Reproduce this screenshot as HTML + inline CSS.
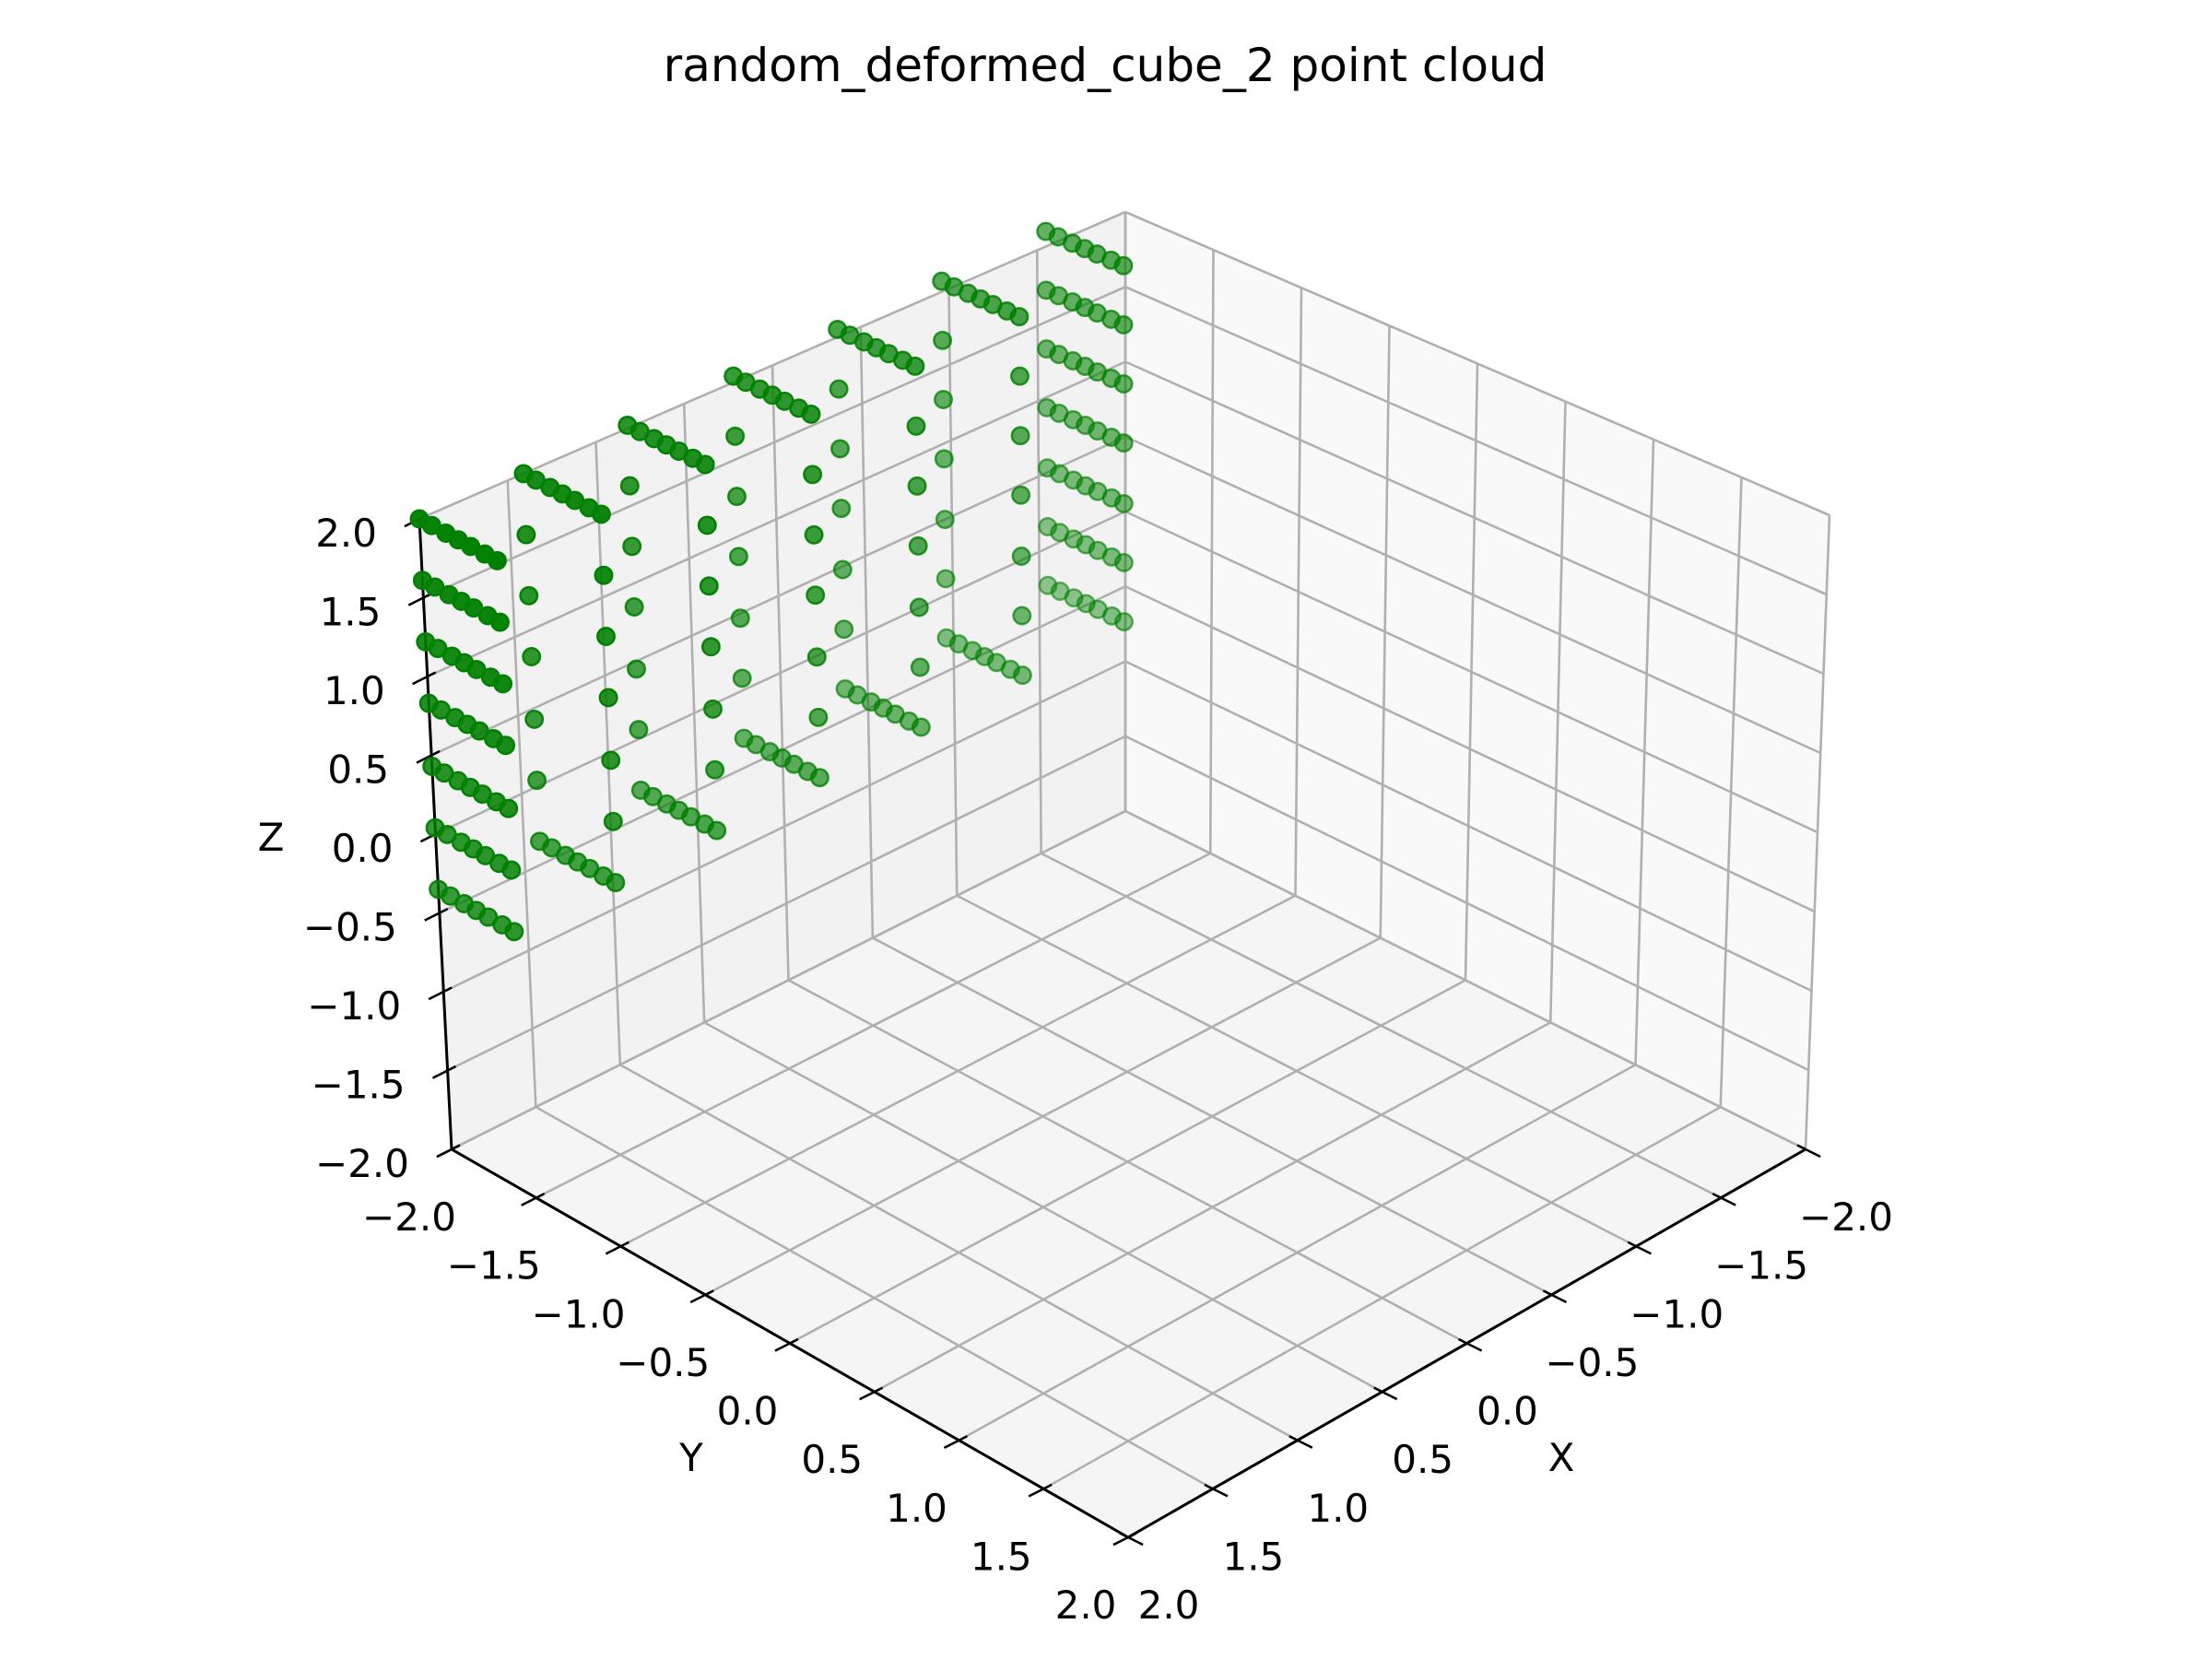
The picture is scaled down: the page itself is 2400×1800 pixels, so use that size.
<!DOCTYPE html>
<html><head><meta charset="utf-8"><style>
html,body{margin:0;padding:0;background:#fff;}
svg{display:block;font-family:"DejaVu Sans","Liberation Sans",sans-serif;}
</style></head><body>
<svg id="chart" width="2400" height="1800" viewBox="0 0 2400 1800" xmlns="http://www.w3.org/2000/svg">
<rect width="2400" height="1800" fill="#ffffff"/>
<text x="1199" y="88" font-size="50" text-anchor="middle" fill="#000">random_deformed_cube_2 point cloud</text>
<g id="panes"></g>
<g id="grid"></g>
<g id="axes"></g>
<g id="points"></g>
<text x="294" y="923" font-size="42" text-anchor="middle">Z</text>
<text x="750" y="1596" font-size="42" text-anchor="middle">Y</text>
<text x="1694" y="1596" font-size="42" text-anchor="middle">X</text>
</svg>
<script>
// data grid values (cube surface lattice)
var xs = [2.0, 1.41, 0.82, 0.22, -0.37, -0.96, -1.55];
var ys = [-2.0, -1.93, -1.85, -1.78, -1.71, -1.63, -1.56];
var zs = [-0.35, 0.04, 0.43, 0.83, 1.22, 1.61, 2.0];
// per-x-column vertical deformation
var zShift = [0.0, 0.0, 0.02, 0.04, 0.05, 0.07, 0.1];
var tickValues = [-2.0, -1.5, -1.0, -0.5, 0.0, 0.5, 1.0, 1.5, 2.0];
var tickLabels = ["\u22122.0", "\u22121.5", "\u22121.0", "\u22120.5", "0.0", "0.5", "1.0", "1.5", "2.0"];

var NS = "http://www.w3.org/2000/svg";
var C = {
  "000":[1221,880], "100":[490,1247], "010":[1959,1247], "110":[1224,1668],
  "001":[1221,230], "101":[455,563], "011":[1985,559], "111":[1223,975]
};
function P(x,y,z){
  var a=(x+2)/4, b=(y+2)/4, c=(z+2)/4, r=[0,0];
  for (var i=0;i<2;i++) for (var j=0;j<2;j++) for (var k=0;k<2;k++){
    var w=(i?a:1-a)*(j?b:1-b)*(k?c:1-c), p=C[""+i+j+k];
    r[0]+=w*p[0]; r[1]+=w*p[1];
  }
  return r;
}
function mk(tag, attrs, parent){
  var e=document.createElementNS(NS,tag);
  for (var k in attrs) e.setAttribute(k, attrs[k]);
  parent.appendChild(e); return e;
}
var panes=document.getElementById('panes');
function poly(pts){ return pts.map(function(p){return p[0].toFixed(1)+","+p[1].toFixed(1);}).join(" "); }
var f1=mk('polygon',{points:poly([P(-2,-2,-2),P(-2,2,-2),P(-2,2,2),P(-2,-2,2)]),fill:'#f9f9f9'},panes);


var f2=mk('polygon',{points:poly([P(-2,-2,-2),P(2,-2,-2),P(2,-2,2),P(-2,-2,2)]),fill:'#f2f2f2'},panes);


var f3=mk('polygon',{points:poly([P(-2,-2,-2),P(2,-2,-2),P(2,2,-2),P(-2,2,-2)]),fill:'#f5f5f5'},panes);



var grid=document.getElementById('grid');
function gl(p,q,name){
  var l=mk('line',{x1:p[0],y1:p[1],x2:q[0],y2:q[1],stroke:'#b0b0b0','stroke-width':2.6},grid);
  
  
}
tickValues.forEach(function(t){
  gl(P(t,-2,-2),P(t,2,-2),'floor-grid-x');
  gl(P(-2,t,-2),P(2,t,-2),'floor-grid-y');
  gl(P(t,-2,-2),P(t,-2,2),'left-wall-grid-x');
  gl(P(-2,-2,t),P(2,-2,t),'left-wall-grid-z');
  gl(P(-2,t,-2),P(-2,t,2),'right-wall-grid-y');
  gl(P(-2,-2,t),P(-2,2,t),'right-wall-grid-z');
});

var axes=document.getElementById('axes');
function al(p,q,name,w){
  var l=mk('line',{x1:p[0],y1:p[1],x2:q[0],y2:q[1],stroke:'#000','stroke-width':w},axes);
  
  
}
al(P(2,-2,2),P(2,-2,-2),'z-axis-line',3);
al(P(2,-2,-2),P(2,2,-2),'y-axis-line',3);
al(P(2,2,-2),P(-2,2,-2),'x-axis-line',3);
var dX=[-0.894,0.449], dY=[0.895,0.445];
function txt(x,y,s,anchor,name){
  var t=mk('text',{x:x,y:y,'font-size':42,'text-anchor':anchor,fill:'#000'},axes);
  t.textContent=s;
  
  
}
tickValues.forEach(function(t,i){
  var pz=P(2,-2,t);
  al([pz[0]+dX[0]*18,pz[1]+dX[1]*18],[pz[0]-dX[0]*10,pz[1]-dX[1]*10],'z-tick',2.5);
  txt(pz[0]-46,pz[1]+30,tickLabels[i],'end','z-tick-label');
  var py=P(2,t,-2);
  al([py[0]+dX[0]*18,py[1]+dX[1]*18],[py[0]-dX[0]*10,py[1]-dX[1]*10],'y-tick',2.5);
  txt(py[0]-46,py[1]+88,tickLabels[i],'middle','y-tick-label');
  var px=P(t,2,-2);
  al([px[0]+dY[0]*18,px[1]+dY[1]*18],[px[0]-dY[0]*10,px[1]-dY[1]*10],'x-tick',2.5);
  txt(px[0]+44,px[1]+88,tickLabels[i],'middle','x-tick-label');
});

var pts=[];
for (var i=0;i<xs.length;i++){
  for (var k=0;k<zs.length;k++){
    var bnd=(i===0||i===xs.length-1||k===0||k===zs.length-1);
    for (var j=0;j<ys.length;j++){
      if (bnd || j===0 || j===ys.length-1) pts.push([xs[i],ys[j],zs[k]+zShift[i]]);
    }
  }
}
function depth(p){ return (p[0]+p[1])*0.612+p[2]*0.5; }
var dmin=Infinity,dmax=-Infinity;
pts.forEach(function(p){var d=depth(p); if(d<dmin)dmin=d; if(d>dmax)dmax=d;});
pts.sort(function(a,b){return depth(a)-depth(b);});
var g=document.getElementById('points');
pts.forEach(function(p){
  var s=P(p[0],p[1],p[2]);
  var al_=0.42+0.58*(depth(p)-dmin)/(dmax-dmin);
  var c=mk('circle',{cx:s[0].toFixed(1),cy:s[1].toFixed(1),r:9.2,fill:'#008000','fill-opacity':al_.toFixed(3),stroke:'#008000','stroke-opacity':Math.min(1,al_+0.15).toFixed(3),'stroke-width':2.5},g);
  
  
});
</script>
</body></html>
